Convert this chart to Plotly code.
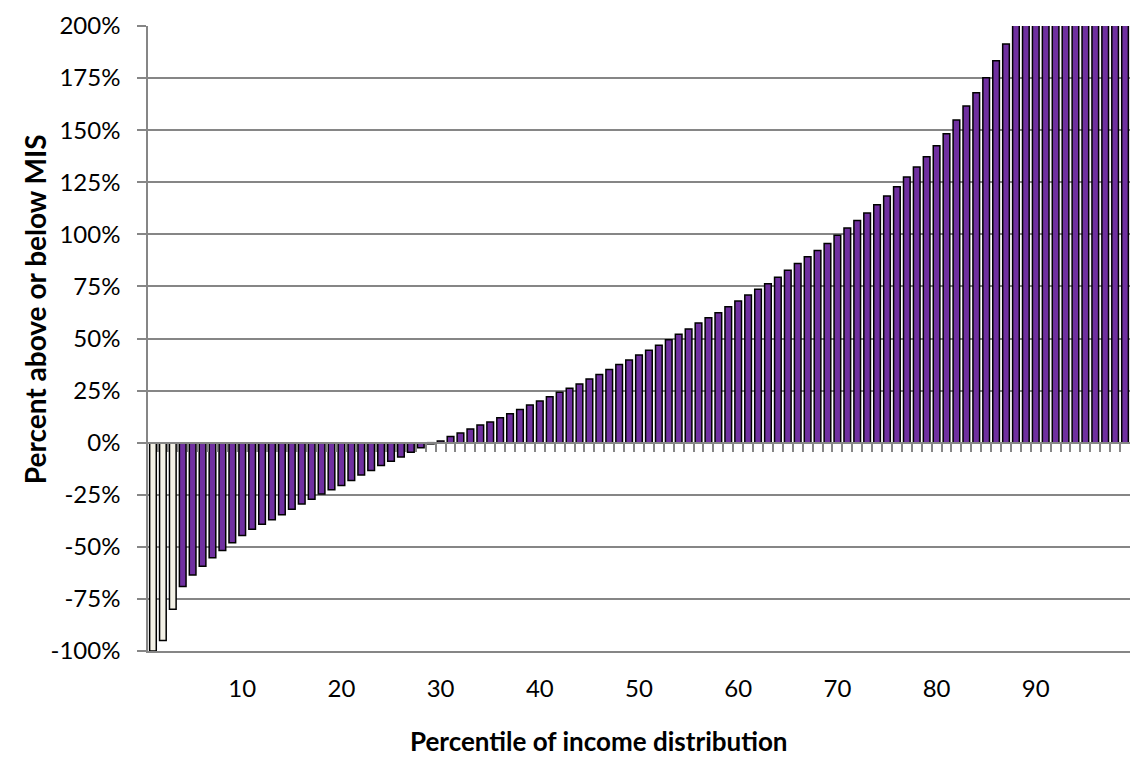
"""
Percent above or below MIS by percentile of income distribution
"""

import plotly.graph_objects as go

# Percentiles 1..99
percentiles = list(range(1, 100))

# Percent above (+) or below (-) the MIS
# (values at 88+ run past the 200% top of the axis and are clipped)
pct_vs_mis = [
    -100, -95, -80, -69, -63.5, -59.3, -55.2, -51.7, -48.0, -44.6,
    -41.6, -39.2, -37.0, -34.6, -32.0, -29.4, -27.2, -24.6, -22.6, -20.5,
    -18.1, -15.5, -13.3, -10.9, -8.9, -6.9, -4.6, -2.4, -0.6, 0.8,
    3.0, 4.6, 6.6, 8.5, 9.9, 12.0, 13.9, 15.9, 18.1, 20.0,
    22.1, 24.2, 26.1, 28.2, 30.6, 32.7, 35.1, 37.5, 39.7, 42.1,
    44.4, 46.8, 49.4, 52.1, 54.6, 57.5, 60.0, 62.4, 65.3, 68.0,
    70.9, 73.6, 76.3, 79.4, 82.8, 86.0, 89.2, 92.2, 95.6, 99.6,
    103.1, 106.6, 110.3, 114.2, 118.4, 122.8, 127.5, 132.3, 137.3, 142.5,
    148.3, 154.9, 161.6, 168.0, 175.2, 183.3, 191.4, 201, 212, 224,
    237, 251, 267, 285, 306, 332, 365, 410, 480,
]

# first three percentiles are shown in a pale fill
n_pale = 3
PURPLE = '#7030A0'
PALE = '#F3F1E6'
GRID = '#868686'
FONT = 'Lato, "Open Sans", Arial, sans-serif'

bar_colors = [PALE if i < n_pale else PURPLE for i in range(len(percentiles))]

x_ticks = [10, 20, 30, 40, 50, 60, 70, 80, 90]
y_ticks = [-100, -75, -50, -25, 0, 25, 50, 75, 100, 125, 150, 175, 200]

fig = go.Figure()
fig.add_trace(go.Bar(
    x=percentiles,
    y=pct_vs_mis,
    marker=dict(color=bar_colors, line=dict(color='black', width=1.5)),
    xaxis='x',
    yaxis='y',
    hovertemplate='Percentile %{x}<br>%{y:.1f}%<extra></extra>',
))
# invisible copy so the bottom label axis is drawn
fig.add_trace(go.Scatter(
    x=percentiles,
    y=pct_vs_mis,
    mode='markers',
    marker=dict(opacity=0),
    xaxis='x2',
    yaxis='y',
    hoverinfo='skip',
    showlegend=False,
))

# category axis crossing at 0%: tick marks between bars, no labels
fig.update_layout(
    xaxis=dict(
        range=[0.5, 99.5],
        anchor='free',
        position=100 / 300,
        tickvals=[p + 0.5 for p in percentiles[:-1]],
        ticks='outside',
        ticklen=9,
        tickwidth=1.5,
        tickcolor=GRID,
        showticklabels=False,
        showline=True,
        linecolor=GRID,
        linewidth=1.5,
        showgrid=False,
        zeroline=False,
        automargin=False,
    ),
    xaxis2=dict(
        range=[0.5, 99.5],
        overlaying='x',
        anchor='y',
        side='bottom',
        tickvals=x_ticks,
        ticks='',
        ticklabelstandoff=15,
        tickfont=dict(family=FONT, size=24, color='black'),
        showline=True,
        linecolor=GRID,
        linewidth=1.5,
        showgrid=False,
        zeroline=False,
        automargin=False,
    ),
    yaxis=dict(
        range=[-100, 200],
        tickvals=y_ticks,
        ticktext=[f'{v}%' for v in y_ticks],
        ticks='outside',
        ticklen=9,
        tickwidth=1.5,
        tickcolor=GRID,
        ticklabelstandoff=12,
        tickfont=dict(family=FONT, size=24, color='black'),
        showline=True,
        linecolor=GRID,
        linewidth=1.5,
        showgrid=True,
        gridcolor=GRID,
        gridwidth=1.5,
        zeroline=True,
        zerolinecolor=GRID,
        zerolinewidth=1.5,
        automargin=False,
    ),
    annotations=[
        dict(
            text='<b>Percentile of income distribution</b>',
            xref='paper', yref='paper',
            x=0.459, y=0,
            xanchor='center', yanchor='middle',
            yshift=-90,
            showarrow=False,
            font=dict(family=FONT, size=26, color='black'),
        ),
        dict(
            text='<b>Percent above or below MIS</b>',
            xref='paper', yref='paper',
            x=0, y=0.547,
            xanchor='center', yanchor='middle',
            xshift=-113,
            textangle=-90,
            showarrow=False,
            font=dict(family=FONT, size=28, color='black'),
        ),
    ],
    bargap=0.33,
    showlegend=False,
    plot_bgcolor='white',
    paper_bgcolor='white',
    width=1130,
    height=758,
    margin=dict(l=148, r=0, t=26, b=107),
)

# drop the page's default body margin so the figure fills the window exactly
fig.write_html(
    'out.html',
    config={'displayModeBar': False},
    post_script="document.body.style.margin='0';document.body.style.overflow='hidden';",
)
